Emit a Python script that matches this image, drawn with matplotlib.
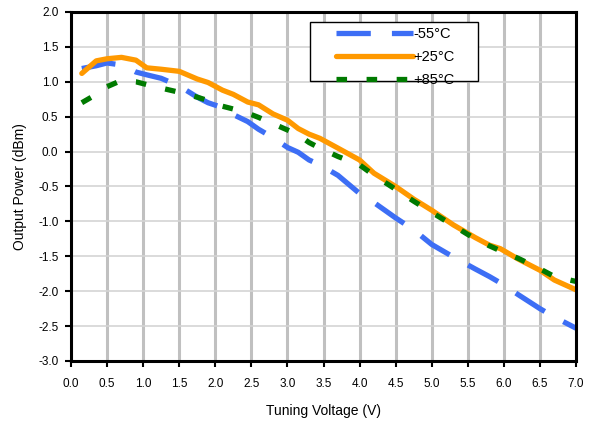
import numpy as np
import matplotlib.pyplot as plt
import matplotlib.patches as mpatches

plt.rcParams['font.family'] = ['Liberation Sans', 'DejaVu Sans']

# Tuning voltage (V)
voltage = [0.15, 0.35, 0.5, 0.7, 0.9, 1.05, 1.25, 1.5, 1.75, 1.9, 2.1, 2.25, 2.45, 2.6,
           2.8, 3.0, 3.15, 3.3, 3.45, 3.7, 4.0, 4.2, 4.5, 4.75, 5.0, 5.3, 5.6, 5.8,
           5.95, 6.2, 6.5, 6.7, 7.0]

# Output power (dBm)
p_m55 = [1.19, 1.23, 1.27, 1.24, 1.14, 1.10, 1.05, 0.94, 0.78, 0.70, 0.63, 0.53, 0.43, 0.32,
         0.20, 0.06, -0.01, -0.12, -0.19, -0.34, -0.60, -0.73, -0.95, -1.12, -1.33, -1.51,
         -1.68, -1.79, -1.88, -2.05, -2.25, -2.37, -2.53]
p_p25 = [1.12, 1.30, 1.33, 1.35, 1.31, 1.20, 1.18, 1.15, 1.04, 0.99, 0.88, 0.82, 0.71, 0.67,
         0.54, 0.45, 0.33, 0.25, 0.19, 0.05, -0.12, -0.31, -0.50, -0.68, -0.84, -1.05,
         -1.23, -1.34, -1.39, -1.54, -1.70, -1.84, -1.98]
p_p85 = [0.70, 0.82, 0.93, 1.02, 1.00, 0.96, 0.91, 0.85, 0.78, 0.73, 0.65, 0.61, 0.55, 0.49,
         0.40, 0.31, 0.24, 0.13, 0.05, -0.07, -0.19, -0.34, -0.54, -0.71, -0.87, -1.06,
         -1.25, -1.35, -1.42, -1.53, -1.68, -1.79, -1.86]

fig = plt.figure(figsize=(5.89, 4.21), dpi=100)
ax = fig.add_axes([71 / 589, 60 / 421, 505 / 589, 349 / 421])

# grid
xt = np.arange(0, 7.01, 0.5)
yt = np.arange(-3, 2.01, 0.5)
for v in xt:
    ax.axvline(v, color='#c0c0c0', lw=2.2, zorder=0)
for v in yt:
    ax.axhline(v, color='#d4d4d4', lw=1.2, zorder=0)

lw = 3.8
ax.plot(voltage, p_m55, color='#3d6ef5', lw=lw, dashes=(6.5, 4), label='-55°C',
        solid_capstyle='butt', dash_capstyle='butt')
ax.plot(voltage, p_p25, color='#ff9900', lw=lw, label='+25°C', solid_capstyle='round')
ax.plot(voltage, p_p85, color='#007a00', lw=lw, dashes=(2, 3.7), label='+85°C',
        dash_capstyle='butt')

ax.set_xlim(0, 7)
ax.set_ylim(-3, 2)
ax.set_xticks(xt)
ax.set_yticks(yt)
ax.set_xticklabels([f'{v:.1f}' for v in xt], fontsize=8.5)
ax.set_yticklabels([f'{v:.1f}' for v in yt], fontsize=8.5)
ax.tick_params(direction='out', length=4, width=1.5, color='black')
ax.tick_params(axis='x', pad=8)
ax.tick_params(axis='y', pad=5)

for s in ax.spines.values():
    s.set_linewidth(2.2)
    s.set_color('black')

ax.set_xlabel('Tuning Voltage (V)', fontsize=10, labelpad=10)
ax.set_ylabel('Output Power (dBm)', fontsize=10, labelpad=8)

# legend box drawn separately
box = mpatches.Rectangle((0.473, 0.802), 0.333, 0.169, transform=ax.transAxes,
                         facecolor='white', edgecolor='black', lw=1.0, zorder=4.5)
ax.add_patch(box)
leg = ax.legend(loc='upper left', bbox_to_anchor=(0.501, 0.99), fontsize=10.5,
                handlelength=5.3, handletextpad=0.0, borderpad=0.3, labelspacing=0.62,
                frameon=False)

fig.savefig('out.png', dpi=100)
